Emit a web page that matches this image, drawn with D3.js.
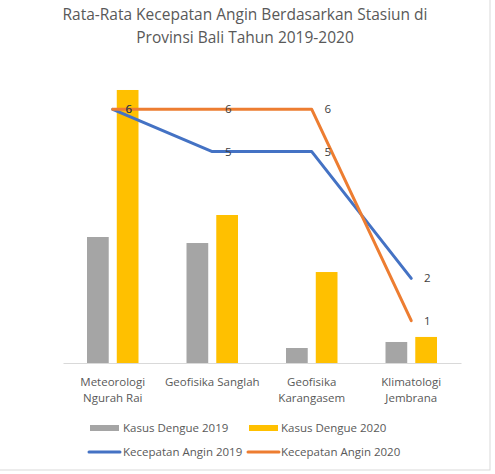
<!DOCTYPE html>
<html>
<head>
<meta charset="utf-8">
<script src="https://cdn.jsdelivr.net/npm/d3@7"></script>
<style>
  html, body { margin: 0; padding: 0; background: #ffffff; }
  svg { display: block; font-family: "Open Sans", "Noto Sans", sans-serif; }
</style>
</head>
<body>
<svg id="chart" width="495" height="474"></svg>
<script>
// ---- data ----
const titleLines = ["Rata-Rata Kecepatan Angin Berdasarkan Stasiun di", "Provinsi Bali Tahun 2019-2020"];
const categories = ["Meteorologi Ngurah Rai", "Geofisika Sanglah", "Geofisika Karangasem", "Klimatologi Jembrana"];
const categoryLabelLines = [["Meteorologi", "Ngurah Rai"], ["Geofisika Sanglah"], ["Geofisika", "Karangasem"], ["Klimatologi", "Jembrana"]];
const barSeriesNames = ["Kasus Dengue 2019", "Kasus Dengue 2020"];
const dengue2019 = [1277, 1216, 152, 213];
const dengue2020 = [2767, 1500, 922, 264];
const lineSeriesNames = ["Kecepatan Angin 2019", "Kecepatan Angin 2020"];
const angin2019 = [6, 5, 5, 2];
const angin2020 = [6, 6, 6, 1];

// ---- layout ----
const svg = d3.select("#chart");
const plot = { left: 63, right: 461, top: 67, bottom: 363 };
const barColors = ["#A5A5A5", "#FFC000"];
const lineColors = ["#4472C4", "#ED7D31"];
const textColor = "#595959";

// chart border
svg.append("rect").attr("x", -1).attr("y", -1).attr("width", 491).attr("height", 471)
  .attr("fill", "#ffffff").attr("stroke", "#d9d9d9").attr("stroke-width", 1);

// title
svg.append("g").selectAll("text").data(titleLines).join("text")
  .attr("x", 245).attr("y", (d, i) => 20 + i * 23)
  .attr("text-anchor", "middle").attr("fill", textColor)
  .attr("font-size", "15.5px").text(d => d);

const x0 = d3.scaleBand().domain(categories).range([plot.left, plot.right]);
const x1 = d3.scaleBand().domain(barSeriesNames).range([24, x0.bandwidth() - 24]).paddingInner(0.27);
const yBar = d3.scaleLinear().domain([0, 3000]).range([plot.bottom, plot.top]);
const yLine = d3.scaleLinear().domain([0, 7]).range([plot.bottom, plot.top]);

// bars
const barData = categories.map((c, i) => ({ c, vals: [dengue2019[i], dengue2020[i]] }));
const groups = svg.append("g").selectAll("g").data(barData).join("g")
  .attr("transform", d => `translate(${x0(d.c)},0)`);
groups.selectAll("rect").data(d => d.vals.map((v, j) => ({ s: barSeriesNames[j], v, j }))).join("rect")
  .attr("x", d => x1(d.s)).attr("width", x1.bandwidth())
  .attr("y", d => yBar(d.v)).attr("height", d => yBar(0) - yBar(d.v))
  .attr("fill", d => barColors[d.j]);

// category axis
const xAxis = d3.axisBottom(x0).tickSize(0).tickFormat("");
const axisG = svg.append("g").attr("transform", `translate(0,${plot.bottom})`).call(xAxis);
axisG.select(".domain").attr("stroke", "#d9d9d9").attr("stroke-width", 1);
const labG = svg.append("g");
categories.forEach((c, i) => {
  labG.append("text").attr("x", x0(c) + x0.bandwidth() / 2).attr("text-anchor", "middle")
    .attr("fill", textColor).attr("font-size", "11.5px")
    .selectAll("tspan").data(categoryLabelLines[i]).join("tspan")
    .attr("x", x0(c) + x0.bandwidth() / 2).attr("y", (d, k) => 386 + k * 16).text(d => d);
});

// lines
const lineData = [angin2019, angin2020];
const cx = c => x0(c) + x0.bandwidth() / 2;
const lineGen = d3.line().x((d, i) => cx(categories[i])).y(d => yLine(d));
lineData.forEach((arr, k) => {
  svg.append("path").datum(arr).attr("d", lineGen)
    .attr("fill", "none").attr("stroke", lineColors[k]).attr("stroke-width", 3)
    .attr("stroke-linejoin", "round").attr("stroke-linecap", "round");
});
// data labels
lineData.forEach((arr, k) => {
  svg.append("g").selectAll("text").data(arr).join("text")
    .attr("x", (d, i) => cx(categories[i]) + 16).attr("y", d => yLine(d))
    .attr("dy", "0.35em").attr("text-anchor", "middle")
    .attr("fill", "#404040").attr("font-size", "11.5px").text(d => d);
});

// legend
const leg = svg.append("g");
const legBar = [{ x: 90, tx: 123 }, { x: 249, tx: 281 }];
barSeriesNames.forEach((n, k) => {
  leg.append("rect").attr("x", legBar[k].x).attr("y", 425).attr("width", 29).attr("height", 6).attr("fill", barColors[k]);
  leg.append("text").attr("x", legBar[k].tx).attr("y", 428).attr("dy", "0.35em")
    .attr("fill", textColor).attr("font-size", "11.5px").text(n);
});
const legLine = [{ x: 89, tx: 123 }, { x: 248, tx: 281 }];
lineSeriesNames.forEach((n, k) => {
  leg.append("line").attr("x1", legLine[k].x).attr("x2", legLine[k].x + 31).attr("y1", 452).attr("y2", 452)
    .attr("stroke", lineColors[k]).attr("stroke-width", 3).attr("stroke-linecap", "round");
  leg.append("text").attr("x", legLine[k].tx).attr("y", 452).attr("dy", "0.35em")
    .attr("fill", textColor).attr("font-size", "11.5px").text(n);
});
</script>
</body>
</html>
